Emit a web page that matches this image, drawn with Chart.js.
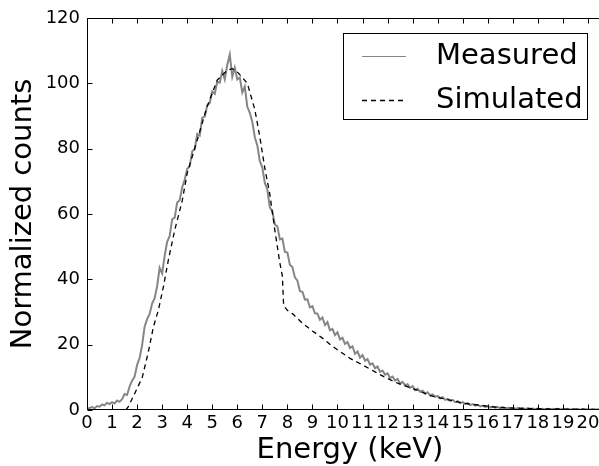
<!DOCTYPE html>
<html>
<head>
<meta charset="utf-8">
<script src="https://cdn.jsdelivr.net/npm/chart.js@4.4.1/dist/chart.umd.min.js"></script>
<style>
  html, body { margin: 0; padding: 0; background: #fff; overflow: hidden; }
  #wrap { width: 599px; height: 466px; overflow: hidden; }
  #spectrum { display: block; }
</style>
</head>
<body>
<div id="wrap"><canvas id="spectrum" width="613" height="466"></canvas></div>
<script>
// Measured spectrum, channels every 0.1 keV starting at 0 keV
const energyStep = 0.1;
const measuredCounts = [
  0.3, 0.6, 0.9, 0.5, 1.2, 1.0, 1.7, 1.4, 2.2, 1.8,
  2.4, 2.0, 2.9, 2.5, 3.3, 4.9, 4.6, 7.2, 9.0, 10.2,
  13.8, 15.9, 19.8, 25.5, 27.8, 29.4, 32.6, 34.2, 37.9, 43.5,
  41.8, 47.2, 51.5, 53.2, 58.4, 58.9, 63.5, 64.2, 68.2, 70.5,
  73.8, 74.6, 79.2, 79.8, 84.5, 84.0, 89.5, 89.8, 93.2, 94.0,
  97.5, 96.8, 100.5, 100.2, 103.8, 101.2, 105.6, 108.8, 102.0, 104.8,
  101.2, 101.8, 97.2, 99.0, 92.8, 91.0, 88.2, 83.5, 81.0, 76.2,
  74.2, 69.5, 67.5, 62.0, 60.8, 56.8, 56.2, 52.2, 52.5, 48.4,
  48.2, 44.5, 43.8, 40.6, 39.6, 36.4, 36.2, 33.8, 33.9, 31.4,
  31.8, 29.6, 29.5, 27.6, 28.3, 26.0, 26.9, 24.4, 24.8, 22.9,
  23.8, 21.6, 22.1, 20.2, 20.8, 19.0, 19.5, 17.2, 17.9, 16.0,
  16.8, 15.1, 15.6, 13.9, 14.3, 12.8, 13.3, 11.7, 12.1, 10.8,
  11.2, 9.8, 10.2, 9.0, 9.5, 8.1, 8.6, 7.6, 7.9, 6.8,
  7.3, 6.1, 6.5, 5.6, 5.9, 5.0, 5.4, 4.5, 4.8, 4.0,
  4.3, 3.6, 3.9, 3.1, 3.4, 2.8, 3.1, 2.4, 2.7, 2.1,
  2.4, 1.8, 2.1, 1.5, 1.8, 1.3, 1.6, 1.1, 1.35, 0.95,
  1.15, 0.8, 1.0, 0.7, 0.9, 0.55, 0.8, 0.5, 0.7, 0.45,
  0.6, 0.35, 0.6, 0.3, 0.5, 0.3, 0.5, 0.25, 0.45, 0.25,
  0.45, 0.2, 0.4, 0.2, 0.4, 0.15, 0.4, 0.15, 0.35, 0.15,
  0.35, 0.1, 0.35, 0.1, 0.3, 0.1, 0.3, 0.1, 0.3, 0.1,
  0.25, 0.1, 0.25, 0.1, 0.2, 0.1, 0.2, 0.1, 0.2, 0.1,
  0.2
];

// Simulated spectrum
const simulatedEnergy = [
  1.55, 1.65, 1.9, 2.2, 2.45, 2.65, 2.85, 3.05, 3.25, 3.5,
  3.8, 4.0, 4.4, 4.8, 5.2, 5.6, 5.8, 6.0, 6.4, 6.7,
  6.9, 7.1, 7.3, 7.5, 7.7, 7.8, 7.85, 8.0, 8.2, 8.6,
  9.0, 9.4, 9.8, 10.5, 11.0, 11.85, 12.4, 13.2, 13.7, 14.5,
  15.0, 15.85, 16.4, 17.0, 18.0, 19.0, 20.0, 21.0
];
const simulatedCounts = [
  0, 1, 5, 9.8, 17.8, 25.4, 30.6, 37.7, 46, 55,
  64, 72.5, 82.6, 93, 101, 104, 104.5, 103.5, 100, 92,
  83.6, 74, 66, 55, 45, 41, 32, 30.5, 29.5, 26.6,
  24.2, 22, 19.5, 15.8, 13.8, 10.2, 8.2, 6, 4.4, 3,
  2.1, 1.3, 0.8, 0.6, 0.4, 0.3, 0.2, 0.15
];

// Axis ticks (labels stop at 20 keV)
const xTickValues = [0,1,2,3,4,5,6,7,8,9,10,11,12,13,14,15,16,17,18,19,20];
const yTickValues = [0, 20, 40, 60, 80, 100, 120];
const legendLabels = ['Measured', 'Simulated'];

const measuredPoints = measuredCounts.map((v, i) => ({ x: +(i * energyStep).toFixed(2), y: v }));
const simulatedPoints = simulatedEnergy.map((e, i) => ({ x: e, y: simulatedCounts[i] }));

const FONT = "'DejaVu Sans', sans-serif";

// Frame around the plot with inward ticks on all four sides, plus the boxed legend
const framePlugin = {
  id: 'frame',
  afterDatasetsDraw(chart) {
    const { ctx, chartArea: a, scales } = chart;
    const xs = scales.x, ys = scales.y;
    const L = Math.round(a.left) + 0.5, R = Math.round(a.right) - 0.5;
    const T = Math.round(a.top) + 0.5, B = Math.round(a.bottom) - 0.5;
    ctx.save();
    ctx.strokeStyle = '#000';
    ctx.lineWidth = 1;
    ctx.beginPath();
    ctx.rect(L, T, R - L, B - T);
    const tl = 5;
    xTickValues.concat([21]).forEach(v => {
      const px = Math.round(xs.getPixelForValue(v)) + 0.5;
      ctx.moveTo(px, B); ctx.lineTo(px, B - tl);
      ctx.moveTo(px, T); ctx.lineTo(px, T + tl);
    });
    yTickValues.forEach(v => {
      const py = Math.round(ys.getPixelForValue(v)) + 0.5;
      ctx.moveTo(L, py); ctx.lineTo(L + tl, py);
      ctx.moveTo(R, py); ctx.lineTo(R - tl, py);
    });
    ctx.stroke();

    // legend
    const bx = 343.5, by = 33.5, bw = 244, bh = 86;
    ctx.fillStyle = '#fff';
    ctx.fillRect(bx, by, bw, bh);
    ctx.strokeRect(bx, by, bw, bh);
    const rows = [56, 100];
    const ds = [chart.data.datasets[1], chart.data.datasets[0]];
    ctx.font = '29px ' + FONT;
    ctx.textBaseline = 'middle';
    ctx.textAlign = 'left';
    rows.forEach((y, i) => {
      const d = ds[i];
      ctx.beginPath();
      ctx.strokeStyle = d.borderColor;
      ctx.lineWidth = i === 0 ? 1.2 : d.borderWidth;
      ctx.setLineDash(d.borderDash || []);
      ctx.moveTo(362, y + 0.5); ctx.lineTo(406, y + 0.5);
      ctx.stroke();
      ctx.setLineDash([]);
      ctx.fillStyle = '#000';
      ctx.fillText(legendLabels[i], 436, y);
    });
    ctx.restore();
  }
};

new Chart(document.getElementById('spectrum'), {
  type: 'line',
  data: {
    datasets: [
      {
        label: legendLabels[1],
        data: simulatedPoints,
        borderColor: '#000000',
        borderWidth: 1.3,
        borderDash: [5, 4],
        pointRadius: 0,
        tension: 0,
        fill: false,
        order: 0
      },
      {
        label: legendLabels[0],
        data: measuredPoints,
        borderColor: '#868686',
        borderWidth: 2,
        pointRadius: 0,
        tension: 0,
        fill: false,
        order: 1
      }
    ]
  },
  options: {
    responsive: false,
    animation: false,
    events: [],
    layout: { padding: { left: 0, right: 0, top: 18, bottom: 0 } },
    plugins: { legend: { display: false }, tooltip: { enabled: false } },
    scales: {
      x: {
        type: 'linear',
        min: 0,
        max: 21,
        afterFit(s) { s.height = 56; },
        afterBuildTicks(s) { s.ticks = xTickValues.map(v => ({ value: v })); },
        grid: { display: false, drawTicks: false },
        border: { display: false },
        ticks: {
          includeBounds: false,
          autoSkip: false,
          maxRotation: 0,
          padding: 3,
          color: '#000',
          font: { family: FONT, size: 18 },
          callback: v => String(v)
        },
        title: {
          display: true,
          text: 'Energy (keV)',
          color: '#000',
          font: { family: FONT, size: 29, lineHeight: 1 },
          padding: { top: 0, bottom: 1 }
        }
      },
      y: {
        min: 0,
        max: 120,
        afterFit(s) { s.width = 87; },
        afterBuildTicks(s) { s.ticks = yTickValues.map(v => ({ value: v })); },
        grid: { display: false, drawTicks: false },
        border: { display: false },
        ticks: {
          padding: 7,
          color: '#000',
          font: { family: FONT, size: 18 },
          callback: v => String(v)
        },
        title: {
          display: true,
          text: 'Normalized counts',
          color: '#000',
          font: { family: FONT, size: 29, lineHeight: 1 },
          padding: { top: 9, bottom: 0 }
        }
      }
    }
  },
  plugins: [framePlugin]
});
</script>
</body>
</html>
